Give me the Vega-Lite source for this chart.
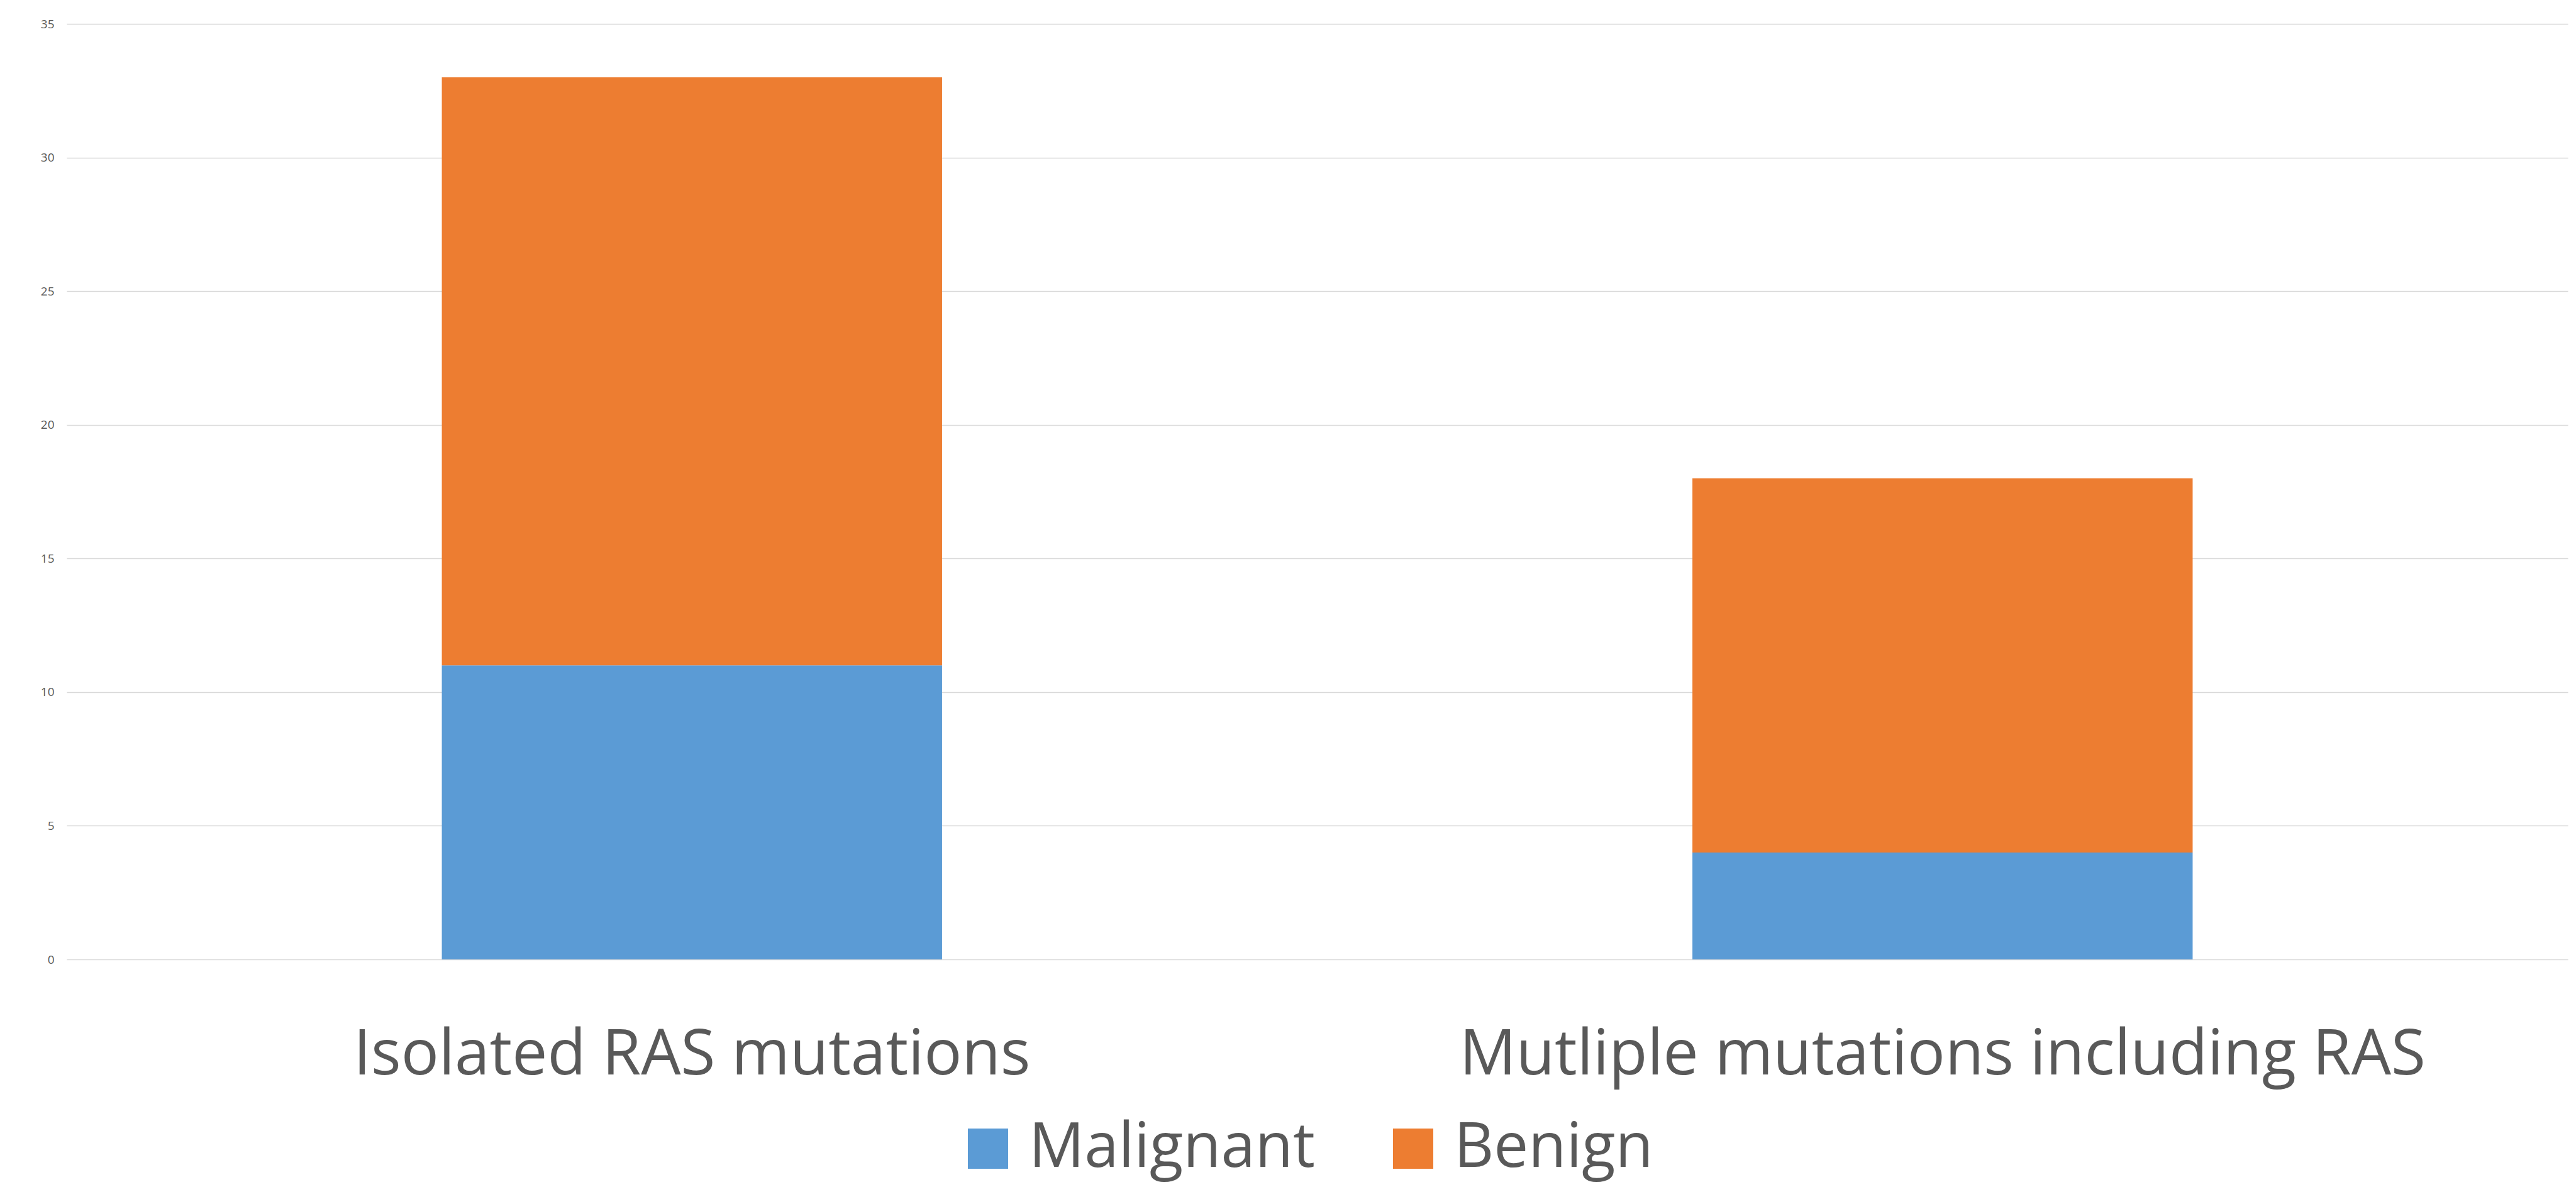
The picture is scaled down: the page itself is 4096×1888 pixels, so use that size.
{
  "$schema": "https://vega.github.io/schema/vega-lite/v6.json",
  "width": 3977,
  "height": 1488,
  "autosize": {"type": "none"},
  "padding": {"left": 106, "top": 38, "right": 13, "bottom": 362},
  "background": "white",
  "config": {
    "view": {"stroke": null},
    "font": "Open Sans"
  },
  "data": {
    "values": [
      {"group": "Isolated RAS mutations", "type": "Malignant", "count": 11},
      {"group": "Isolated RAS mutations", "type": "Benign", "count": 22},
      {"group": "Mutliple mutations including RAS", "type": "Malignant", "count": 4},
      {"group": "Mutliple mutations including RAS", "type": "Benign", "count": 14}
    ]
  },
  "mark": {"type": "bar"},
  "encoding": {
    "x": {
      "field": "group",
      "type": "nominal",
      "sort": null,
      "scale": {"paddingInner": 0.6, "paddingOuter": 0.3},
      "axis": {
        "title": null,
        "labelAngle": 0,
        "domain": false,
        "ticks": false,
        "tickSize": 0,
        "labelPadding": 182,
        "labelBaseline": "alphabetic",
        "labelFontSize": 100,
        "labelColor": "#595959",
        "labelFont": "Open Sans",
        "labelLimit": 3000
      }
    },
    "y": {
      "field": "count",
      "type": "quantitative",
      "stack": "zero",
      "scale": {"domain": [0, 35], "nice": false},
      "axis": {
        "title": null,
        "values": [0, 5, 10, 15, 20, 25, 30, 35],
        "domain": false,
        "ticks": false,
        "labelPadding": 20,
        "labelFontSize": 19,
        "labelColor": "#595959",
        "labelFont": "Open Sans",
        "gridColor": "#d9d9d9",
        "gridWidth": 1.3
      }
    },
    "color": {
      "field": "type",
      "type": "nominal",
      "sort": ["Malignant", "Benign"],
      "scale": {"domain": ["Malignant", "Benign"], "range": ["#5B9BD5", "#ED7D31"]},
      "legend": {
        "title": null,
        "orient": "none",
        "direction": "horizontal",
        "legendX": 1416,
        "legendY": 1740,
        "padding": 0,
        "symbolType": "square",
        "symbolSize": 4096,
        "symbolStrokeWidth": 0,
        "labelFontSize": 98,
        "labelColor": "#595959",
        "labelFont": "Open Sans",
        "labelOffset": 16,
        "labelLimit": 2000,
        "columnPadding": 107
      }
    },
    "order": {"field": "type", "sort": "descending"}
  }
}
